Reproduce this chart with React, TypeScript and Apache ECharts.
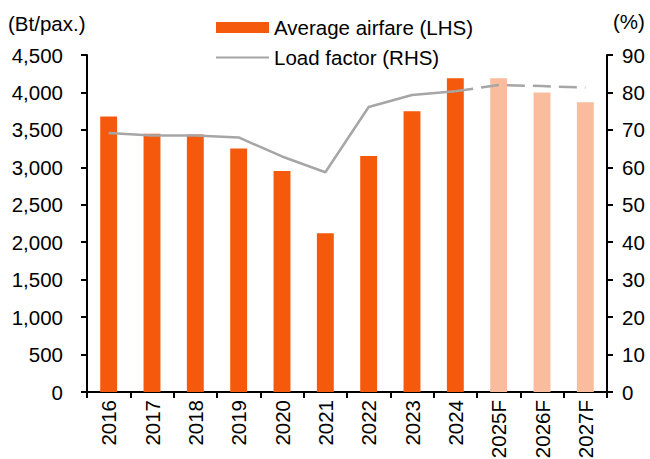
import React, { useEffect, useRef } from "react";
import * as echarts from "echarts";

const categories = ["2016", "2017", "2018", "2019", "2020", "2021", "2022", "2023", "2024", "2025F", "2026F", "2027F"];
const airfare = [3680, 3450, 3440, 3250, 2950, 2120, 3150, 3750, 4190, 4190, 4000, 3870];
const isForecast = [false, false, false, false, false, false, false, false, false, true, true, true];
const loadFactorActual = [69.2, 68.5, 68.5, 68.0, 62.9, 58.7, 76.1, 79.3, 80.3, null, null, null];
const loadFactorForecast = [null, null, null, null, null, null, null, null, 80.3, 82.0, 81.7, 81.3];
const leftTicks = { min: 0, max: 4500, interval: 500 };
const rightTicks = { min: 0, max: 90, interval: 10 };

const ORANGE = "#F4590C";
const LIGHT = "#F9BD9E";
const GRAY = "#A6A6A6";
const FONT = "Liberation Sans";
const FS = 20.5;

export default function App() {
  const ref = useRef<HTMLDivElement>(null);
  useEffect(() => {
    if (!ref.current) return;
    const chart = echarts.init(ref.current, undefined, { renderer: "svg" });
    const axisLabel = { color: "#000", fontSize: FS, fontFamily: FONT };
    chart.setOption({
      animation: false,
      textStyle: { fontFamily: FONT },
      grid: { left: 87, right: 43, top: 55, bottom: 67, containLabel: false, outerBoundsMode: "none" },
      legend: {
        orient: "vertical",
        left: 210,
        top: 12,
        itemWidth: 53,
        itemHeight: 11,
        itemGap: 9,
        textStyle: { color: "#000", fontSize: FS, fontFamily: FONT },
        data: [
          { name: "Average airfare (LHS)", icon: "rect" },
          { name: "Load factor (RHS)", itemStyle: { opacity: 0 } },
        ],
      },
      xAxis: {
        type: "category",
        data: categories,
        axisLine: { lineStyle: { color: "#000", width: 2 } },
        axisTick: { show: true, alignWithLabel: false, length: 6, lineStyle: { color: "#000", width: 2 } },
        axisLabel: { ...axisLabel, fontSize: 20.5, rotate: 90, margin: 8 },
      },
      yAxis: [
        {
          type: "value",
          ...leftTicks,
          position: "left",
          splitLine: { show: false },
          axisLine: { show: true, lineStyle: { color: "#000", width: 2 } },
          axisTick: { show: true, length: 6, lineStyle: { color: "#000", width: 2 } },
          axisLabel: {
            ...axisLabel,
            margin: 24,
            formatter: (v: number) => v.toLocaleString("en-US"),
          },
        },
        {
          type: "value",
          ...rightTicks,
          position: "right",
          splitLine: { show: false },
          axisLine: { show: true, lineStyle: { color: "#000", width: 2 } },
          axisTick: { show: true, length: 6, lineStyle: { color: "#000", width: 2 } },
          axisLabel: { ...axisLabel, margin: 15 },
        },
      ],
      graphic: [
        { type: "text", left: 8, top: 13, style: { text: "(Bt/pax.)", fontSize: FS, fontFamily: FONT, fill: "#000" } },
        { type: "text", left: 613, top: 11, style: { text: "(%)", fontSize: FS, fontFamily: FONT, fill: "#000" } },
      ],
      series: [
        {
          name: "Average airfare (LHS)",
          type: "bar",
          yAxisIndex: 0,
          barWidth: "39%",
          itemStyle: { color: ORANGE },
          data: airfare.map((v, i) => ({ value: v, itemStyle: { color: isForecast[i] ? LIGHT : ORANGE } })),
        },
        {
          name: "Load factor (RHS)",
          type: "line",
          yAxisIndex: 1,
          symbol: "none",
          lineStyle: { color: GRAY, width: 2.5 },
          itemStyle: { color: GRAY },
          data: loadFactorActual,
        },
        {
          name: "Load factor forecast",
          type: "line",
          yAxisIndex: 1,
          symbol: "none",
          lineStyle: { color: GRAY, width: 2.5, type: [18, 8] },
          itemStyle: { color: GRAY },
          data: loadFactorForecast,
        },
      ],
    });
    return () => chart.dispose();
  }, []);
  return <div ref={ref} style={{ position: "absolute", left: 0, top: 0, width: 650, height: 459 }} />;
}
